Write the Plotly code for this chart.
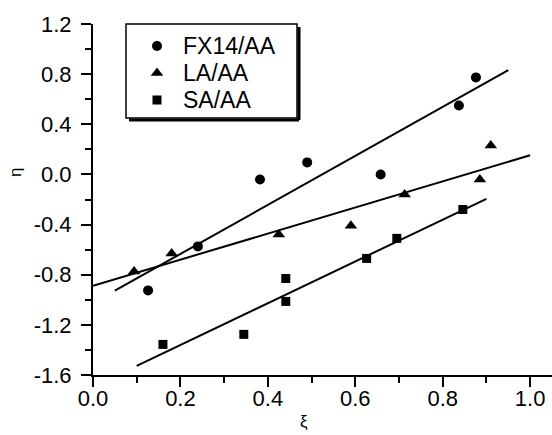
import numpy as np
import plotly.graph_objects as go

# Data
fx_x = [0.126, 0.24, 0.382, 0.49, 0.658, 0.837, 0.876]
fx_y = [-0.925, -0.574, -0.04, 0.096, 0.0, 0.55, 0.774]
la_x = [0.094, 0.18, 0.425, 0.59, 0.713, 0.885, 0.91]
la_y = [-0.774, -0.63, -0.48, -0.41, -0.16, -0.04, 0.23]
sa_x = [0.16, 0.345, 0.441, 0.441, 0.626, 0.695, 0.846]
sa_y = [-1.356, -1.276, -0.83, -1.013, -0.67, -0.51, -0.28]

# x-extent of each linear fit line
fx_fit_range = [0.05, 0.95]
la_fit_range = [0.0, 1.0]
sa_fit_range = [0.1, 0.9]

# tick values / labels (hyphen-minus as in the original)
x_ticks = [0.0, 0.2, 0.4, 0.6, 0.8, 1.0]
x_tick_labels = ["0.0", "0.2", "0.4", "0.6", "0.8", "1.0"]
y_ticks = [-1.6, -1.2, -0.8, -0.4, 0.0, 0.4, 0.8, 1.2]
y_tick_labels = ["-1.6", "-1.2", "-0.8", "-0.4", "0.0", "0.4", "0.8", "1.2"]

names = ["FX14/AA", "LA/AA", "SA/AA"]
symbols = ["circle", "triangle-up", "square"]
sizes = [10, 11, 9]
series = list(zip(names, [fx_x, la_x, sa_x], [fx_y, la_y, sa_y],
                  [fx_fit_range, la_fit_range, sa_fit_range], symbols, sizes))

FONT = "Arial, Liberation Sans, sans-serif"
W, H = 552, 435
ML, MR, MT, MB = 93, 0, 24, 60
PW, PH = W - ML - MR, H - MT - MB
XR = [0, 1.05]
YR = [-1.6, 1.2]


def px2paper(px, py):
    return (px - ML) / PW, 1 - (py - MT) / PH


def px2data(px, py):
    fx, fy = px2paper(px, py)
    return XR[0] + fx * (XR[1] - XR[0]), YR[0] + fy * (YR[1] - YR[0])


fig = go.Figure()
for name, xs, ys, rng, sym, sz in series:
    k, b = np.polyfit(xs, ys, 1)
    fxr = np.array(rng)
    fig.add_trace(go.Scatter(x=fxr, y=k * fxr + b, mode="lines",
                             line=dict(color="black", width=2),
                             showlegend=False, hoverinfo="skip"))
for name, xs, ys, rng, sym, sz in series:
    fig.add_trace(go.Scatter(x=xs, y=ys, mode="markers", name=name, showlegend=False,
                             marker=dict(symbol=sym, size=sz, color="black")))

# Custom legend (box with drop shadow)
bx0, by1 = px2paper(126, 24)
bx1, by0 = px2paper(297, 118)
shx, _ = px2paper(299, 0)
_, shy = px2paper(0, 120)
_, sh_top = px2paper(0, 27)
sh_left, _ = px2paper(129, 0)
fig.add_shape(type="line", xref="paper", yref="paper", x0=shx, x1=shx, y0=shy, y1=sh_top,
              line=dict(color="black", width=3))
fig.add_shape(type="line", xref="paper", yref="paper", x0=sh_left, x1=shx, y0=shy, y1=shy,
              line=dict(color="black", width=3))
fig.add_shape(type="rect", xref="paper", yref="paper", x0=bx0, x1=bx1, y0=by0, y1=by1,
              line=dict(color="black", width=1.5))
row_py = [46, 73, 100]
key_pts = [px2data(157, p) for p in row_py]
for (kx, ky), sym, sz in zip(key_pts, symbols, sizes):
    fig.add_trace(go.Scatter(x=[kx], y=[ky], mode="markers",
                             marker=dict(symbol=sym, size=sz, color="black"),
                             showlegend=False, hoverinfo="skip"))
tx_x = px2paper(181, 0)[0]
for name, p in zip(names, row_py):
    fig.add_annotation(text=name, x=tx_x, y=px2paper(0, p)[1], xref="paper", yref="paper",
                       xanchor="left", yanchor="middle", showarrow=False,
                       font=dict(family=FONT, size=23, color="black"))

axis_common = dict(
    showline=True, linecolor="black", linewidth=2, showgrid=False,
    zeroline=False, ticks="outside", ticklen=10, tickwidth=2, tickcolor="black",
    tickfont=dict(family=FONT, size=22, color="black"),
)
fig.update_layout(
    xaxis=dict(range=XR, tickmode="array", tickvals=x_ticks, ticktext=x_tick_labels,
               ticklabelstandoff=-7,
               minor=dict(ticks="outside", ticklen=6, tickwidth=2, dtick=0.1, tickcolor="black"),
               **axis_common),
    yaxis=dict(range=YR, tickmode="array", tickvals=y_ticks, ticktext=y_tick_labels,
               ticklabelstandoff=5,
               minor=dict(ticks="outside", ticklen=6, tickwidth=2, dtick=0.2, tickcolor="black"),
               **axis_common),
)

ex, ey = px2paper(304, 421)
fig.add_annotation(text="ξ", x=ex, y=ey, xref="paper", yref="paper",
                   xanchor="center", yanchor="middle",
                   showarrow=False, font=dict(family=FONT, size=17, color="black"))
hx, hy = px2paper(15, 173)
fig.add_annotation(text="η", x=hx, y=hy, xref="paper", yref="paper", textangle=-90,
                   xanchor="center", yanchor="middle",
                   showarrow=False, font=dict(family=FONT, size=17, color="black"))

fig.update_layout(
    width=W, height=H,
    margin=dict(l=ML, r=MR, t=MT, b=MB),
    paper_bgcolor="white", plot_bgcolor="white",
    showlegend=False,
)
fig.write_html("out.html", config={"displayModeBar": False},
               post_script="document.body.style.margin='0';")
